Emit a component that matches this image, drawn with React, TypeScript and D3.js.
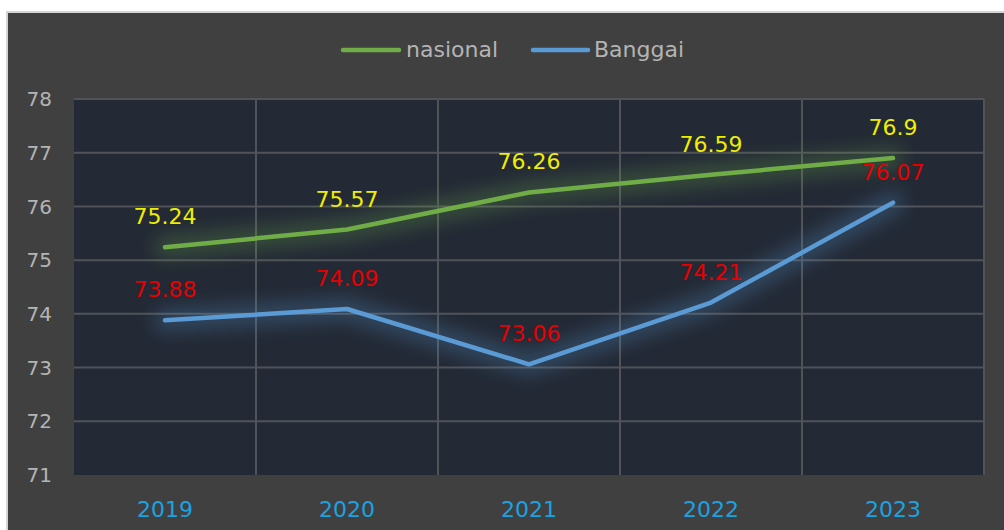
import React from "react";
import * as d3 from "d3";

const years = ["2019", "2020", "2021", "2022", "2023"];
const nasional = [75.24, 75.57, 76.26, 76.59, 76.9];
const banggai = [73.88, 74.09, 73.06, 74.21, 76.07];
const yTicks = [71, 72, 73, 74, 75, 76, 77, 78];

const W = 1004;
const H = 530;
const plot = { left: 74, right: 984, top: 99, bottom: 475 };
const FONT = "'DejaVu Sans', Verdana, sans-serif";

export default function App() {
  const x = d3.scaleBand<string>().domain(years).range([plot.left, plot.right]);
  const y = d3.scaleLinear().domain([71, 78]).range([plot.bottom, plot.top]);
  const line = d3
    .line<number>()
    .x((_, i) => (x(years[i]) as number) + x.bandwidth() / 2)
    .y((d) => y(d));

  const series = [
    { name: "nasional", values: nasional, color: "#70ad47", label: "#f0ee00", glow: "g1" },
    { name: "Banggai", values: banggai, color: "#5b9bd5", label: "#e60000", glow: "g2" },
  ];

  const grid = "#505358";

  return (
    <svg
      width={W}
      height={H}
      style={{ position: "absolute", left: 0, top: 0, background: "#fff" }}
    >
      <defs>
        <filter id="g1" x="-20%" y="-60%" width="140%" height="220%">
          <feGaussianBlur stdDeviation="9" />
        </filter>
        <filter id="g2" x="-20%" y="-60%" width="140%" height="220%">
          <feGaussianBlur stdDeviation="9" />
        </filter>
      </defs>
      <rect x={7} y={12} width={W} height={H} fill="#404040" stroke="#d4d4d4" strokeWidth={2} />
      <rect
        x={plot.left}
        y={plot.top}
        width={plot.right - plot.left}
        height={plot.bottom - plot.top}
        fill="#232935"
      />
      {yTicks.map((t) => (
        <line
          key={"h" + t}
          x1={plot.left}
          x2={plot.right}
          y1={y(t)}
          y2={y(t)}
          stroke={grid}
          strokeWidth={t === 71 ? 0 : 2}
        />
      ))}
      {years.map((yr, i) => (
        <line
          key={"v" + yr}
          x1={(x(yr) as number)}
          x2={(x(yr) as number)}
          y1={plot.top}
          y2={plot.bottom}
          stroke={grid}
          strokeWidth={i === 0 ? 0 : 2}
        />
      ))}
      <line x1={plot.right} x2={plot.right} y1={plot.top} y2={plot.bottom} stroke={grid} strokeWidth={2} />
      {yTicks.map((t) => (
        <text
          key={"yt" + t}
          x={52}
          y={y(t)}
          dy="0.36em"
          textAnchor="end"
          fill="#b4b4b4"
          fontFamily={FONT}
          fontSize={20}
        >
          {t}
        </text>
      ))}
      {years.map((yr) => (
        <text
          key={"xt" + yr}
          x={(x(yr) as number) + x.bandwidth() / 2}
          y={517}
          textAnchor="middle"
          fill="#1aa3e0"
          fontFamily={FONT}
          fontSize={22}
        >
          {yr}
        </text>
      ))}
      {series.map((s) => (
        <g key={s.name}>
          <path
            d={line(s.values) || ""}
            fill="none"
            stroke={s.color}
            strokeOpacity={0.28}
            strokeWidth={22}
            strokeLinecap="round"
            strokeLinejoin="round"
            filter={`url(#${s.glow})`}
          />
          <path
            d={line(s.values) || ""}
            fill="none"
            stroke={s.color}
            strokeWidth={4.5}
            strokeLinecap="round"
            strokeLinejoin="round"
          />
        </g>
      ))}
      {series.map((s) =>
        s.values.map((v, i) => (
          <text
            key={s.name + i}
            x={(x(years[i]) as number) + x.bandwidth() / 2}
            y={y(v) - 23}
            textAnchor="middle"
            fill={s.label}
            fontFamily={FONT}
            fontSize={22}
          >
            {v}
          </text>
        ))
      )}
      {/* legend */}
      <line x1={343} x2={399} y1={50} y2={50} stroke="#70ad47" strokeWidth={4.5} strokeLinecap="round" />
      <text x={406} y={57} fill="#b4b4b4" fontFamily={FONT} fontSize={22}>
        nasional
      </text>
      <line x1={533} x2={588} y1={50} y2={50} stroke="#5b9bd5" strokeWidth={4.5} strokeLinecap="round" />
      <text x={594} y={57} fill="#b4b4b4" fontFamily={FONT} fontSize={22}>
        Banggai
      </text>
    </svg>
  );
}
